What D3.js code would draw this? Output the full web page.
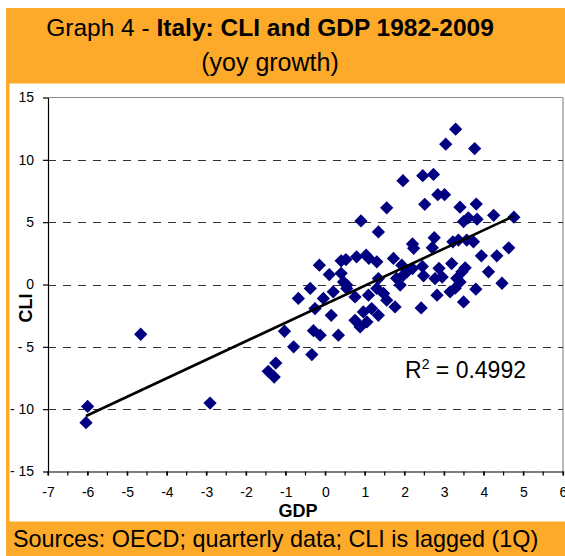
<!DOCTYPE html>
<html>
<head>
<meta charset="utf-8">
<script src="https://cdn.jsdelivr.net/npm/d3@7"></script>
<style>
  html, body { margin: 0; padding: 0; background: #fff; }
  svg { display: block; font-family: "Liberation Sans", Arial, sans-serif; }
</style>
</head>
<body>
<svg id="chart" width="565" height="556"></svg>
<script>
// ---- Data ----
const gdpValues = [
  3.29, 3.04, 3.77, 1.96, 2.46, 2.73, 2.84, 3.01, 2.51, 1.55,
  3.40, 3.81, 0.90, 1.34, 3.49, 3.61, 3.83, 4.25, 4.76, 2.75,
  2.20, 2.23, 2.70, 3.22, 3.36, 3.57, 3.74, 4.63, 4.33, 3.94,
  -0.15, 0.10, 0.40, 0.52, 0.79, 1.03, 1.10, 1.30, 1.72, 1.93,
  2.20, 2.45, 3.19, 3.53, 4.12, 2.87, 0.46, 0.54, 1.34, 1.80,
  1.97, 2.06, 2.77, 2.95, 3.32, 3.40, 3.45, 4.46, 3.80, 3.15,
  3.28, 2.82, -0.38, -0.68, -0.05, 0.20, 0.54, 0.75, 1.09, 1.30,
  1.47, 1.55, 1.89, 1.76, 2.42, 3.49, -0.26, 0.15, 1.17, 1.34,
  0.96, 0.75, 0.88, 1.05, -1.03, -0.30, -0.13, 0.33, -0.80, -0.34,
  -1.25, -1.44, -1.29, -4.66, -6.00, -6.04, -2.91, 0.40, 2.48
];
const cliValues = [
  12.46, 11.26, 10.90, 8.33, 8.73, 8.83, 7.20, 7.20, 6.43, 6.15,
  6.20, 6.45, 5.10, 4.22, 5.05, 5.35, 5.24, 5.55, 5.40, 3.75,
  3.25, 2.90, 2.95, 3.42, 3.56, 3.56, 3.42, 2.94, 2.30, 2.30,
  1.55, 0.80, 1.90, 2.00, 2.22, 2.35, 2.10, 1.82, 2.09, 1.55,
  1.28, 1.45, 1.68, 1.34, 1.02, 1.30, 0.20, -0.05, 0.48, 0.50,
  0.75, 1.02, 0.48, 0.60, 0.50, 0.20, 1.02, 0.10, -0.38, -0.59,
  -0.30, -0.86, -0.32, -1.12, -1.12, -0.59, -0.32, -1.00, -0.86, -0.32,
  -0.72, -1.26, -0.05, -1.80, -1.88, -1.40, -1.93, -2.47, -1.93, -2.47,
  -2.20, -2.87, -3.40, -3.00, -3.75, -3.70, -4.07, -4.07, -5.00, -5.62,
  -6.30, -6.96, -7.42, -3.99, -9.78, -11.08, -9.51, 0.90, 0.70
];
// linear trend line end points (GDP, CLI)
const trendGdp = [-6.04, 4.75];
const trendCli = [-10.55, 5.48];
const rSquared = "0.4992";

const xTicks = [-7, -6, -5, -4, -3, -2, -1, 0, 1, 2, 3, 4, 5, 6];
const xMinorTicks = d3.range(-7, 6.01, 0.5);
const yTicks = [-15, -10, -5, 0, 5, 10, 15];
const yGrid = [-10, -5, 0, 5, 10];

const titleNormal = "Graph 4 - ";
const titleBold = "Italy: CLI and GDP 1982-2009";
const subtitle = "(yoy growth)";
const sourceText = "Sources: OECD; quarterly data; CLI is lagged (1Q)";

// ---- Drawing ----
const svg = d3.select("#chart");
const W = 565, H = 556;
const orange = "#FDAA2B";

svg.append("rect").attr("width", W).attr("height", H).attr("fill", "#fff");
svg.append("rect").attr("x", 6).attr("y", 8).attr("width", W - 6).attr("height", H - 8).attr("fill", orange);
svg.append("rect").attr("x", 9.5).attr("y", 83.5).attr("width", W - 9.5).attr("height", 438).attr("fill", "#fff");

// title
const t1 = svg.append("text").attr("x", 270).attr("y", 36).attr("text-anchor", "middle")
  .attr("font-size", 24.5).attr("fill", "#000");
t1.append("tspan").text(titleNormal);
t1.append("tspan").attr("font-weight", "bold").text(titleBold);
svg.append("text").attr("x", 270).attr("y", 71).attr("text-anchor", "middle")
  .attr("font-size", 25).attr("fill", "#000").text(subtitle);

// scales
const x = d3.scaleLinear().domain([-7, 6]).range([48, 563]);
const y = d3.scaleLinear().domain([-15, 15]).range([471.5, 97.5]);

// frame top & right
svg.append("line").attr("x1", x(-7)).attr("x2", x(6)).attr("y1", y(15)).attr("y2", y(15))
  .attr("stroke", "#8c8c8c").attr("stroke-width", 1.2);
svg.append("line").attr("x1", x(6)).attr("x2", x(6)).attr("y1", y(15)).attr("y2", y(-15))
  .attr("stroke", "#8c8c8c").attr("stroke-width", 1.2);

// gridlines
svg.append("g").selectAll("line").data(yGrid).join("line")
  .attr("x1", x(-7)).attr("x2", x(6))
  .attr("y1", d => Math.round(y(d)) + 0.5).attr("y2", d => Math.round(y(d)) + 0.5)
  .attr("stroke", "#333").attr("stroke-width", 1).attr("stroke-dasharray", "8,7");

// y axis
const yAxis = d3.axisLeft(y).tickValues(yTicks).tickSize(5).tickSizeOuter(0).tickPadding(9)
  .tickFormat(d => d < 0 ? "- " + Math.abs(d) : String(d));
const gy = svg.append("g").attr("transform", `translate(${x(-7)},0)`).call(yAxis);
gy.selectAll("text").attr("font-size", 14).attr("font-family", "Liberation Sans, Arial, sans-serif").attr("fill", "#000");
gy.selectAll("line, path").attr("stroke", "#000").attr("stroke-width", 1.2);

// x axis
const xAxis = d3.axisBottom(x).tickValues(xTicks).tickSize(4).tickSizeOuter(0).tickPadding(12)
  .tickFormat(d => String(d));
const gx = svg.append("g").attr("transform", `translate(0,${y(-15)})`).call(xAxis);
gx.selectAll("text").attr("font-size", 14).attr("font-family", "Liberation Sans, Arial, sans-serif").attr("fill", "#000");
gx.selectAll("line, path").attr("stroke", "#000").attr("stroke-width", 1.2);
gx.append("g").selectAll("line").data(xMinorTicks).join("line")
  .attr("x1", d => x(d)).attr("x2", d => x(d)).attr("y1", 0).attr("y2", 4)
  .attr("stroke", "#000").attr("stroke-width", 1.2);

// points
const points = gdpValues.map((g, i) => ({ g, c: cliValues[i] }));
const diamond = d3.symbol().type(d3.symbolSquare).size(88);
svg.append("g").selectAll("path").data(points).join("path")
  .attr("d", diamond)
  .attr("transform", d => `translate(${x(d.g)},${y(d.c)}) rotate(45)`)
  .attr("fill", "#000080");

// trend line
const line = d3.line().x(d => x(d[0])).y(d => y(d[1]));
svg.append("path").datum(trendGdp.map((g, i) => [g, trendCli[i]]))
  .attr("d", line).attr("stroke", "#000").attr("stroke-width", 2.6).attr("fill", "none");

// R^2 label
const rt = svg.append("text").attr("x", 405).attr("y", 378).attr("font-size", 23).attr("fill", "#000");
rt.append("tspan").text("R");
rt.append("tspan").attr("font-size", 14).attr("dy", -9).text("2");
rt.append("tspan").attr("dy", 9).text(" = " + rSquared);

// axis titles
svg.append("text").attr("x", 298).attr("y", 517).attr("text-anchor", "middle")
  .attr("font-size", 18).attr("font-weight", "bold").text("GDP");
svg.append("text").attr("transform", "translate(32,308) rotate(-90)").attr("text-anchor", "middle")
  .attr("font-size", 18).attr("font-weight", "bold").text("CLI");

// footer
svg.append("text").attr("x", 13).attr("y", 547).attr("font-size", 23.4).attr("fill", "#000").text(sourceText);
</script>
</body>
</html>
